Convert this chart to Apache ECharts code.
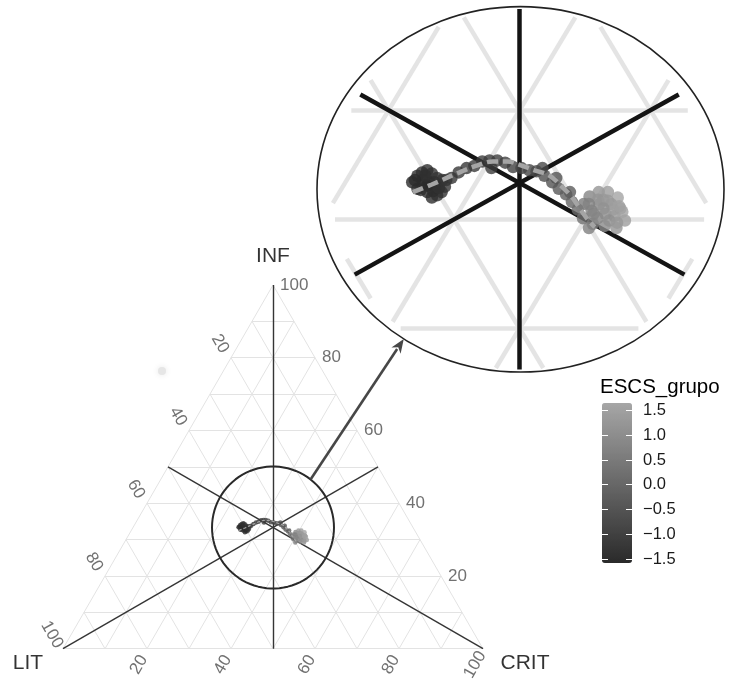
<!DOCTYPE html>
<html>
<head>
<meta charset="utf-8">
<script src="https://cdn.jsdelivr.net/npm/echarts@6/dist/echarts.min.js"></script>
<style>
  html, body { margin: 0; padding: 0; background: #ffffff; }
  #chart { width: 729px; height: 681px; }
</style>
</head>
<body>
<div id="chart"></div>
<script>
// Composition (%) of each ESCS group on the three components
const lit  = [41.5, 40.8, 40.3, 39.8, 39.6, 39.4, 40.8, 40.8, 40.7, 40.2, 39.7, 39.2, 41.4, 40.0, 39.1,
              40.6, 40.2, 39.8, 40.5, 40.3, 39.7, 40.2, 41.2, 38.8, 41.2,
              38.3, 37.5, 36.7, 36.0, 35.2, 34.6, 34.0, 33.5, 33.1, 32.5, 32.0, 31.5, 31.1, 30.8, 30.6, 30.3, 30.2, 30.1, 30.1, 30.9, 34.8, 30.3, 29.9,
              28.6, 27.7, 27.0, 26.5, 26.8, 27.3, 28.2, 29.1, 27.0, 27.6, 28.2, 29.6, 28.8, 28.0, 30.1, 26.8, 27.7, 29.4,
              28.1, 27.4, 27.4, 28.1, 29.0, 28.2, 26.8, 29.1, 27.7, 29.0];
const crit = [25.1, 25.2, 25.4, 25.7, 26.2, 26.8, 26.0, 26.7, 27.3, 27.6, 27.8, 27.8, 25.8, 27.1, 27.3,
              25.8, 26.4, 26.8, 26.4, 27.1, 27.4, 25.8, 26.1, 27.6, 25.2,
              27.9, 28.2, 28.6, 29.1, 29.5, 30.0, 30.6, 31.3, 32.1, 32.8, 33.5, 34.1, 34.9, 35.8, 36.6, 37.4, 38.2, 39.0, 39.8, 34.4, 30.5, 35.9, 37.6,
              39.3, 39.8, 40.5, 41.5, 42.2, 41.3, 40.4, 40.1, 43.1, 42.1, 41.3, 40.8, 41.8, 42.8, 40.7, 42.5, 40.5, 39.2,
              40.1, 40.9, 41.7, 40.9, 40.9, 41.9, 42.0, 40.4, 42.6, 39.6];
const inf  = [33.4, 34.0, 34.3, 34.5, 34.2, 33.8, 33.2, 32.5, 32.0, 32.2, 32.5, 33.0, 32.8, 32.9, 33.6,
              33.6, 33.4, 33.4, 33.1, 32.6, 32.9, 34.0, 32.7, 33.6, 33.6,
              33.8, 34.3, 34.7, 34.9, 35.3, 35.4, 35.4, 35.2, 34.8, 34.7, 34.5, 34.4, 34.0, 33.4, 32.8, 32.3, 31.6, 30.9, 30.1, 34.7, 34.7, 33.8, 32.5,
              32.1, 32.5, 32.5, 32.0, 31.0, 31.4, 31.4, 30.8, 29.9, 30.3, 30.5, 29.6, 29.4, 29.2, 29.2, 30.7, 31.8, 31.4,
              31.8, 31.7, 30.9, 31.0, 30.1, 29.9, 31.2, 30.5, 29.7, 31.4];
const escs = [-1.55, -1.5, -1.45, -1.5, -1.4, -1.35, -1.6, -1.55, -1.5, -1.45, -1.4, -1.3, -1.5, -1.45, -1.3,
              -1.5, -1.45, -1.4, -1.55, -1.5, -1.4, -1.45, -1.5, -1.3, -1.55,
              -1.3, -1.25, -1.25, -1.2, -1.15, -1.1, -1.1, -1.05, -1.0, -0.95, -0.85, -0.75, -0.65, -0.5, -0.35, -0.2, -0.05, 0.1, 0.3, -0.8, -1.15, -0.55, -0.3,
              0.8, 1.2, 1.4, 1.6, 1.5, 1.35, 1.1, 0.7, 1.45, 1.25, 1.0, 0.6, 0.9, 1.15, 0.65, 1.55, 1.3, 0.5,
              1.2, 1.35, 1.4, 1.1, 0.85, 1.05, 1.5, 0.75, 1.3, 0.7];

// Smoothed trend through the groups
const trendLit  = [41.9, 40.1, 37.7, 35.9, 34.4, 33.3, 32.5, 31.6, 30.7, 30.3, 30.0, 29.9, 29.8, 29.6];
const trendCrit = [25.6, 26.7, 28.1, 29.2, 30.3, 31.4, 32.5, 33.9, 35.3, 36.6, 37.9, 39.1, 40.2, 41.1];
const trendInf  = [32.5, 33.2, 34.2, 34.9, 35.3, 35.3, 35.0, 34.5, 34.0, 33.1, 32.1, 31.0, 30.0, 29.3];

// Axis ticks
const axisTicks = [20, 40, 60, 80, 100];
const gridSteps = [0, 10, 20, 30, 40, 50, 60, 70, 80, 90];
const escsTicks = [-1.5, -1.0, -0.5, 0.0, 0.5, 1.0, 1.5];
const escsRange = [-1.58, 1.65];

const FONT = 'Liberation Sans, Arial, Helvetica, sans-serif';
const H = Math.sqrt(3) / 2;

// ternary (LIT, CRIT, INF) -> cartesian, LIT bottom-left, CRIT bottom-right, INF top
function toXY(l, c, i) {
  const s = l + c + i;
  return [100 * (c + i / 2) / s, 100 * H * i / s];
}
const C = toXY(1, 1, 1);             // barycentre
const ZOOM_R = 14.52;                // radius of the magnified region
const CLIP_C = [C[0], C[1] - 0.5];   // centre of the visible disc inside the magnifier
const CLIP_R = 14.3;

// magnifier layout
const INSET = { cx: 524.5, cy: 183, sx: 13.4, sy: 12.6, hx: 16, hy: 14.5 };
const FRAME = { cx: 520.5, cy: 189.3, rx: 203.5, ry: 182.7 };

function segmentsGrid() {
  const segs = [];
  gridSteps.forEach(function (k) {
    segs.push([toXY(100 - k, 0, k), toXY(0, 100 - k, k)]);   // INF = k
    segs.push([toXY(k, 100 - k, 0), toXY(k, 0, 100 - k)]);   // LIT = k
    segs.push([toXY(100 - k, k, 0), toXY(0, k, 100 - k)]);   // CRIT = k
  });
  return segs;
}
const medians = [
  [toXY(0, 0, 100), toXY(50, 50, 0)],
  [toXY(100, 0, 0), toXY(0, 50, 50)],
  [toXY(0, 100, 0), toXY(50, 0, 50)]
];

function clipToCircle(seg, c, r) {
  const p0 = seg[0], p1 = seg[1];
  const dx = p1[0] - p0[0], dy = p1[1] - p0[1];
  const fx = p0[0] - c[0], fy = p0[1] - c[1];
  const a = dx * dx + dy * dy, b = 2 * (fx * dx + fy * dy), cc = fx * fx + fy * fy - r * r;
  const disc = b * b - 4 * a * cc;
  if (disc <= 0) return null;
  const sq = Math.sqrt(disc);
  const t0 = Math.max(0, (-b - sq) / (2 * a)), t1 = Math.min(1, (-b + sq) / (2 * a));
  if (t0 >= t1) return null;
  return [[p0[0] + t0 * dx, p0[1] + t0 * dy], [p0[0] + t1 * dx, p0[1] + t1 * dy]];
}
function asLines(segs) {
  return segs.filter(Boolean).map(function (s) { return { coords: s }; });
}

const points = lit.map(function (l, k) { const p = toXY(l, crit[k], inf[k]); return [p[0], p[1], escs[k]]; });
const trend = trendLit.map(function (l, k) { return toXY(l, trendCrit[k], trendInf[k]); });

const zoomRing = [];
for (let a = 0; a <= 360; a += 4) {
  const t = a * Math.PI / 180;
  zoomRing.push([C[0] + ZOOM_R * Math.cos(t), C[1] + ZOOM_R * Math.sin(t)]);
}

// tick label anchors, pushed outwards from each edge
const PX = 4.2; // pixels per unit on the main triangle
const leftLabels = axisTicks.map(function (k) { const p = toXY(k, 0, 100 - k); return { value: [p[0] - 11 / PX, p[1] + 14 / PX], name: String(k) }; });
const rightLabels = axisTicks.map(function (k) { const p = toXY(0, 100 - k, k); return { value: [p[0] + 7 / PX, p[1]], name: String(k) }; });
const bottomLabels = axisTicks.map(function (k) { const p = toXY(100 - k, k, 0); return { value: [p[0] - 8 / PX, p[1] - 16 / PX], name: String(k) }; });
const titleLabels = [
  { value: [toXY(0, 0, 100)[0], toXY(0, 0, 100)[1] + 29 / PX], name: 'INF' },
  { value: [toXY(100, 0, 0)[0] - 35 / PX, toXY(100, 0, 0)[1] - 14 / PX], name: 'LIT' },
  { value: [toXY(0, 100, 0)[0] + 42 / PX, toXY(0, 100, 0)[1] - 14 / PX], name: 'CRIT' }
];

function labelSeries(data, rotate, align, size, color) {
  return {
    type: 'scatter', xAxisIndex: 0, yAxisIndex: 0, symbolSize: 0, clip: false, silent: true,
    data: data,
    label: {
      show: true, position: 'inside', formatter: '{b}', rotate: rotate, align: align,
      verticalAlign: 'middle', fontFamily: FONT, fontSize: size, color: color
    },
    z: 6
  };
}

const insetW = 2 * INSET.hx * INSET.sx, insetH = 2 * INSET.hy * INSET.sy;

const option = {
  animation: false,
  backgroundColor: '#ffffff',
  grid: [
    { left: 63, top: 285, width: 420, height: 420 * H },
    { left: INSET.cx - insetW / 2, top: INSET.cy - insetH / 2, width: insetW, height: insetH },
    { left: 602, top: 403, width: 30, height: 160 }
  ],
  xAxis: [
    { gridIndex: 0, type: 'value', min: 0, max: 100, show: false },
    { gridIndex: 1, type: 'value', min: C[0] - INSET.hx, max: C[0] + INSET.hx, show: false },
    { gridIndex: 2, type: 'value', min: 0, max: 1, show: false }
  ],
  yAxis: [
    { gridIndex: 0, type: 'value', min: 0, max: 100 * H, show: false },
    { gridIndex: 1, type: 'value', min: C[1] - INSET.hy, max: C[1] + INSET.hy, show: false },
    {
      gridIndex: 2, type: 'value', position: 'left', min: escsRange[0], max: escsRange[1], z: 10,
      axisLine: { show: false }, splitLine: { show: false }, axisLabel: { show: false },
      axisTick: { show: true, inside: true, length: 6, customValues: escsTicks, lineStyle: { color: '#ffffff', width: 1 } }
    },
    {
      gridIndex: 2, type: 'value', position: 'right', min: escsRange[0], max: escsRange[1], z: 10,
      axisLine: { show: false }, splitLine: { show: false },
      axisTick: { show: true, inside: true, length: 6, customValues: escsTicks, lineStyle: { color: '#ffffff', width: 1 } },
      axisLabel: {
        show: true, margin: 11, customValues: escsTicks, fontFamily: FONT, fontSize: 16.5, color: '#1a1a1a',
        formatter: function (v) { return v.toFixed(1).replace('-', '\u2212'); }
      }
    }
  ],
  visualMap: {
    type: 'continuous', show: true, min: escsRange[0], max: escsRange[1], dimension: 2,
    seriesIndex: [4, 8], calculable: false, hoverLink: false, orient: 'vertical',
    left: 602, top: 403, padding: 0, itemWidth: 30, itemHeight: 160, text: null,
    inRange: { color: ['#2a2a2a', '#a6a6a6'] }
  },
  series: [
    // 0: light grid of the triangle
    { type: 'lines', coordinateSystem: 'cartesian2d', xAxisIndex: 0, yAxisIndex: 0, silent: true,
      data: asLines(segmentsGrid()), lineStyle: { color: '#e3e3e3', width: 1, opacity: 1 }, z: 1 },
    // 1: medians
    { type: 'lines', coordinateSystem: 'cartesian2d', xAxisIndex: 0, yAxisIndex: 0, silent: true,
      data: asLines(medians), lineStyle: { color: '#353535', width: 1.4, opacity: 1 }, z: 2 },
    // 2: magnified region
    { type: 'line', xAxisIndex: 0, yAxisIndex: 0, data: zoomRing, symbol: 'none', silent: true,
      lineStyle: { color: '#2a2a2a', width: 2 }, z: 3 },
    // 3: trend (main)
    { type: 'line', xAxisIndex: 0, yAxisIndex: 0, data: trend, smooth: 0.4, symbol: 'none', silent: true,
      lineStyle: { color: '#a3a3a3', width: 1.2, type: [3, 2] }, z: 5 },
    // 4: groups (main)
    { type: 'scatter', xAxisIndex: 0, yAxisIndex: 0, data: points, symbolSize: 4.5, silent: true, z: 4 },
    // 5: light grid inside the magnifier
    { type: 'lines', coordinateSystem: 'cartesian2d', xAxisIndex: 1, yAxisIndex: 1, silent: true, clip: false,
      data: asLines(segmentsGrid().map(function (s) { return clipToCircle(s, CLIP_C, CLIP_R); })),
      lineStyle: { color: '#e4e4e4', width: 4.5, opacity: 1 }, z: 1 },
    // 6: medians inside the magnifier
    { type: 'lines', coordinateSystem: 'cartesian2d', xAxisIndex: 1, yAxisIndex: 1, silent: true, clip: false,
      data: asLines(medians.map(function (s) { return clipToCircle(s, CLIP_C, CLIP_R); })),
      lineStyle: { color: '#141414', width: 4.5, opacity: 1 }, z: 2 },
    // 7: trend (magnified)
    { type: 'line', xAxisIndex: 1, yAxisIndex: 1, data: trend, smooth: 0.4, symbol: 'none', silent: true, clip: false,
      lineStyle: { color: '#a5a5a5', width: 4.5, type: [11, 5] }, z: 5 },
    // 8: groups (magnified)
    { type: 'scatter', xAxisIndex: 1, yAxisIndex: 1, data: points, symbolSize: 12.5, silent: true, clip: false, z: 4 },
    // 9-12: axis labels and titles
    labelSeries(leftLabels, -60, 'center', 17, '#4d4d4d'),
    labelSeries(rightLabels, 0, 'left', 17, '#4d4d4d'),
    labelSeries(bottomLabels, 60, 'center', 17, '#4d4d4d'),
    labelSeries(titleLabels, 0, 'center', 21, '#000000')
  ]
};

const chart = echarts.init(document.getElementById('chart'), null, { renderer: 'canvas' });
chart.setOption(option);

// magnifier frame, connecting arrow, legend title
const startAng = 52 * Math.PI / 180;
const a0 = chart.convertToPixel({ gridIndex: 0 }, [C[0] + ZOOM_R * Math.cos(startAng), C[1] + ZOOM_R * Math.sin(startAng)]);
const endAng = 125 * Math.PI / 180;
const a1 = [FRAME.cx + FRAME.rx * Math.cos(endAng), FRAME.cy + FRAME.ry * Math.sin(endAng)];
const ux = a1[0] - a0[0], uy = a1[1] - a0[1], ul = Math.hypot(ux, uy);
const dx = ux / ul, dy = uy / ul, headL = 14, headW = 5.5;
const base = [a1[0] - dx * headL, a1[1] - dy * headL];

chart.setOption({
  graphic: [
    { type: 'ellipse', shape: { cx: FRAME.cx, cy: FRAME.cy, rx: FRAME.rx, ry: FRAME.ry },
      style: { fill: 'none', stroke: '#222222', lineWidth: 1.6 }, z: 20, silent: true },
    { type: 'line', shape: { x1: a0[0], y1: a0[1], x2: base[0] + dx * 2, y2: base[1] + dy * 2 },
      style: { stroke: '#474747', lineWidth: 2.6 }, z: 20, silent: true },
    { type: 'polygon', shape: { points: [a1, [base[0] - dy * headW, base[1] + dx * headW], [base[0] + dx * 4, base[1] + dy * 4], [base[0] + dy * headW, base[1] - dx * headW]] },
      style: { fill: '#474747' }, z: 20, silent: true },
    { type: 'circle', shape: { cx: 162, cy: 371, r: 4 }, style: { fill: '#e6e6e6', shadowBlur: 6, shadowColor: '#e6e6e6' }, z: 1, silent: true },
    { type: 'text', x: 600, y: 387, style: { text: 'ESCS_grupo', fontFamily: FONT, fontSize: 20.5, fill: '#000000', verticalAlign: 'middle' }, z: 20, silent: true }
  ]
});
</script>
</body>
</html>
